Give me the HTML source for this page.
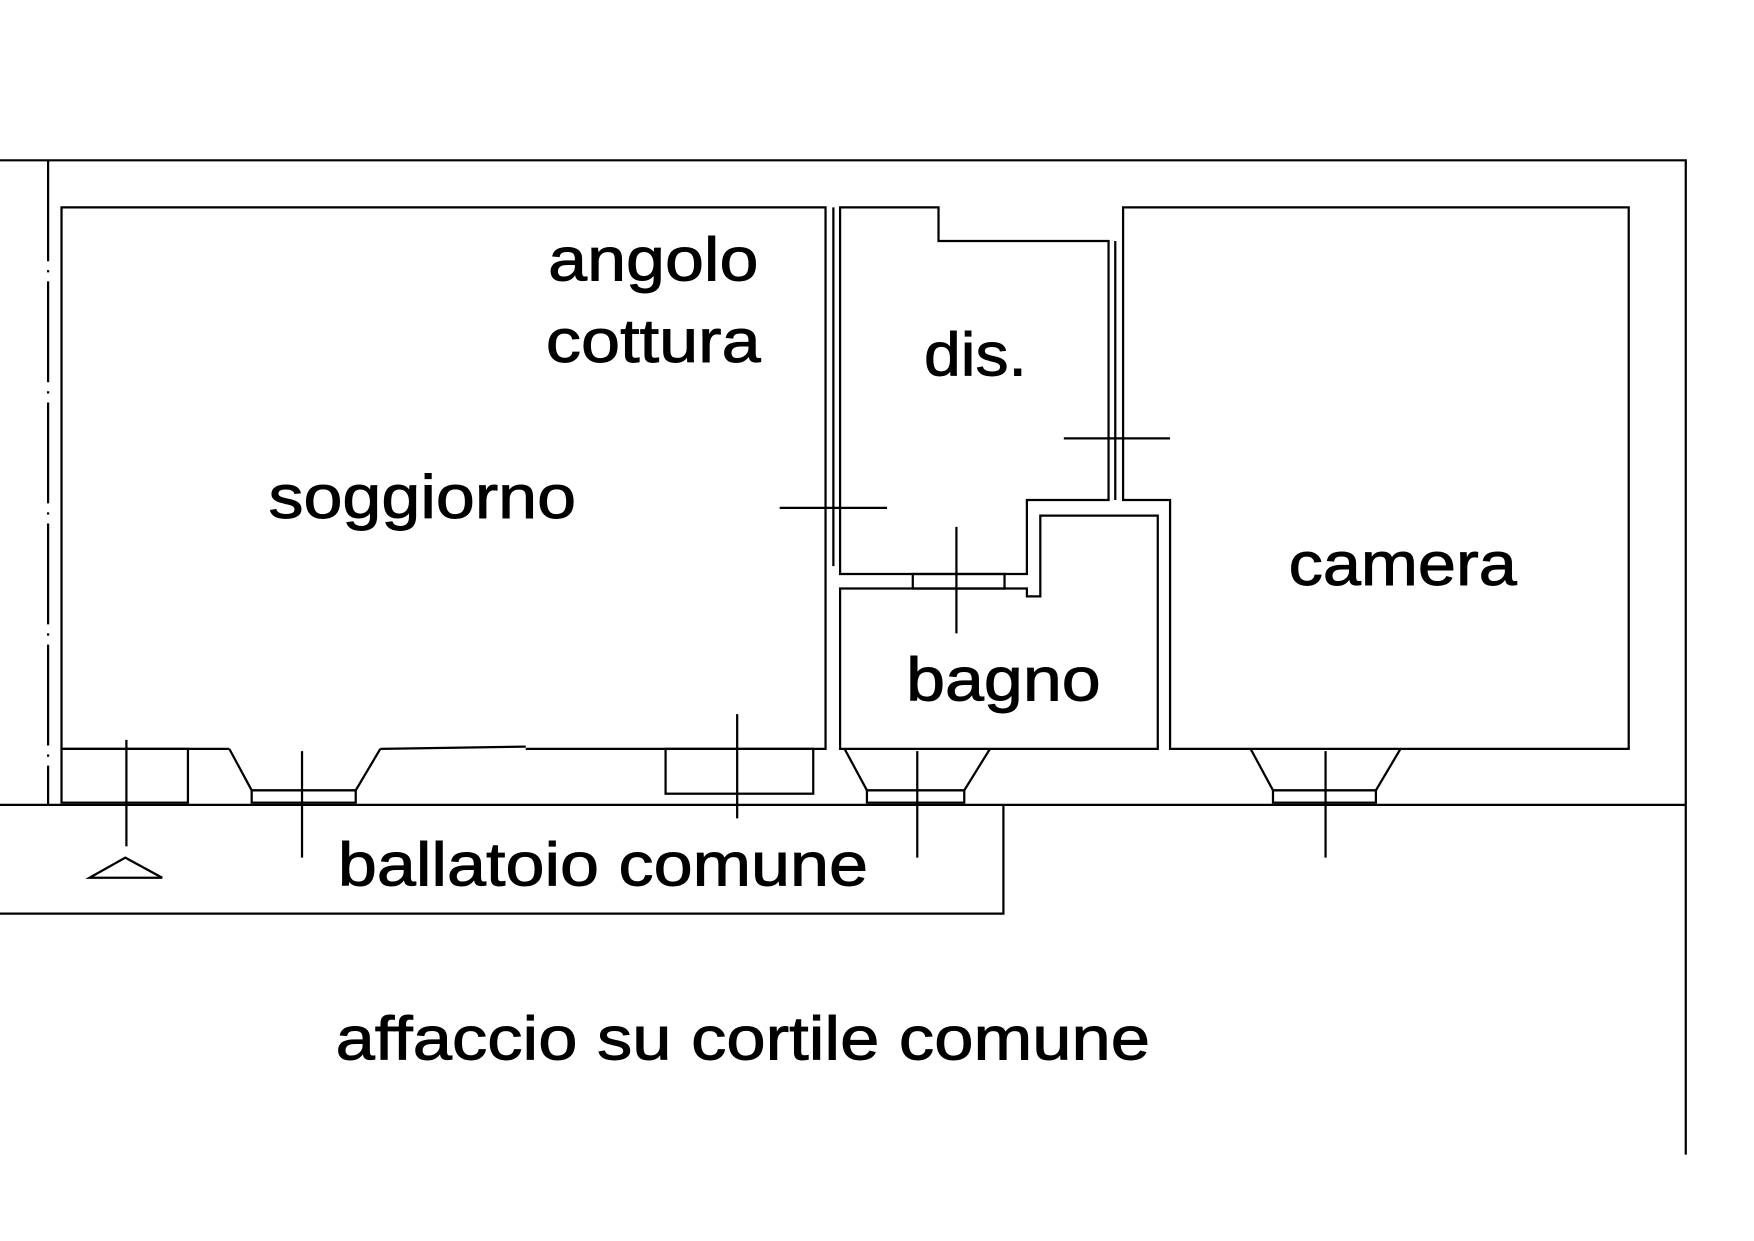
<!DOCTYPE html>
<html><head><style>html,body{margin:0;padding:0;background:#fff}svg{display:block}</style></head>
<body>
<svg width="1754" height="1241" viewBox="0 0 1568 1107" preserveAspectRatio="none" xmlns="http://www.w3.org/2000/svg">
<g fill="none" stroke="#000" stroke-width="2">
<polyline points="0,143 1507,143 1507,1030"/>
<line x1="43" y1="143" x2="43" y2="718" stroke-dasharray="90,8,2,8"/>
<line x1="0" y1="718" x2="1507" y2="718"/>
<polyline points="0,815 897,815 897,718"/>
<polyline points="205,668 55,668 55,185 738,185 738,668 470,668"/>
<polyline points="340,668 470,666"/>
<polygon points="751,185 839,185 839,215 991,215 991,446 918,446 918,512 751,512"/>
<polyline points="745,185 745,505"/>
<polygon points="751,525 918,525 918,532 930,532 930,460 1035,460 1035,668 751,668"/>
<polyline points="997,215 997,446"/>
<polygon points="1004,185 1456,185 1456,668 1046,668 1046,446 1004,446"/>
<polyline points="205,668 225,705 318,705 340,668"/>
<rect x="225" y="705" width="93" height="11"/>
<polyline points="755,668 775,705 862,705 885,668"/>
<rect x="775" y="705" width="87" height="11"/>
<polyline points="1118,668 1138,705 1230,705 1252,668"/>
<rect x="1138" y="705" width="92" height="11"/>
<rect x="55" y="668" width="113" height="48"/>
<rect x="595" y="668" width="132" height="40"/>
<line x1="113" y1="660" x2="113" y2="755"/>
<line x1="270" y1="670" x2="270" y2="765"/>
<line x1="659" y1="637" x2="659" y2="730"/>
<line x1="820" y1="670" x2="820" y2="765"/>
<line x1="1185" y1="670" x2="1185" y2="765"/>
<line x1="855" y1="470" x2="855" y2="565"/>
<line x1="697" y1="453" x2="793" y2="453"/>
<line x1="951" y1="391" x2="1046" y2="391"/>
<rect x="816" y="512" width="82" height="13"/>
<polygon points="80,783 145,783 112,765"/>
</g>
<g font-family="Liberation Sans, sans-serif" font-size="55" fill="#000" stroke="#000" stroke-width="0.8" lengthAdjust="spacingAndGlyphs">
<text x="490" y="250" textLength="188" lengthAdjust="spacingAndGlyphs">angolo</text>
<text x="488" y="323" textLength="192" lengthAdjust="spacingAndGlyphs">cottura</text>
<text x="240" y="462" textLength="275" lengthAdjust="spacingAndGlyphs">soggiorno</text>
<text x="826" y="335" textLength="92" lengthAdjust="spacingAndGlyphs">dis.</text>
<text x="1152" y="522" textLength="204" lengthAdjust="spacingAndGlyphs">camera</text>
<text x="810" y="625" textLength="174" lengthAdjust="spacingAndGlyphs">bagno</text>
<text x="302" y="790" textLength="474" lengthAdjust="spacingAndGlyphs">ballatoio comune</text>
<text x="300" y="945" textLength="728" lengthAdjust="spacingAndGlyphs">affaccio su cortile comune</text>
</g>
</svg>
</body></html>
